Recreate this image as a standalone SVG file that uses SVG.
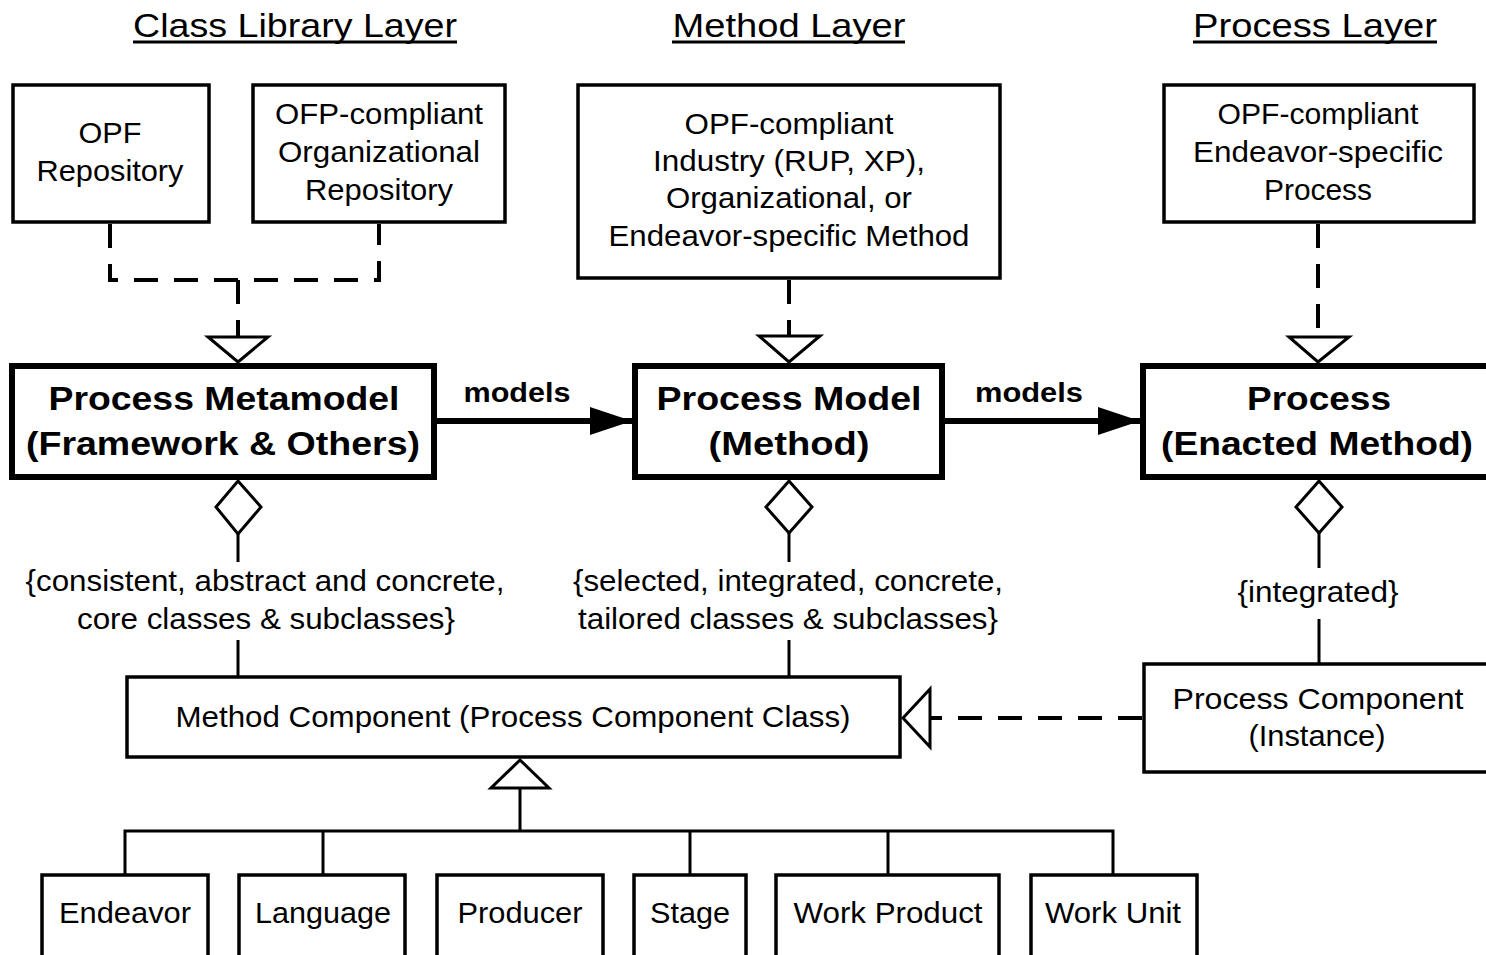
<svg xmlns="http://www.w3.org/2000/svg" width="1486" height="955" viewBox="0 0 1486 955">
<defs>
<style>
.t{font-family:"Liberation Sans",Arial,sans-serif;font-size:29px;fill:#000;text-anchor:middle}
.h{font-family:"Liberation Sans",Arial,sans-serif;font-size:34px;fill:#000;text-anchor:middle}
.b{font-family:"Liberation Sans",Arial,sans-serif;font-size:34px;font-weight:bold;fill:#000;text-anchor:middle}
.m{font-family:"Liberation Sans",Arial,sans-serif;font-size:27px;font-weight:bold;fill:#000;text-anchor:middle}
.box{fill:#fff;stroke:#000;stroke-width:3.5}
.thick{fill:#fff;stroke:#000;stroke-width:6}
.ln{fill:none;stroke:#000;stroke-width:3}
.dash{fill:none;stroke:#000;stroke-width:4;stroke-dasharray:24 16}
.hollow{fill:#fff;stroke:#000;stroke-width:3;stroke-linejoin:miter}
</style>
<marker id="arr" markerUnits="userSpaceOnUse" markerWidth="44" markerHeight="30" refX="42" refY="15" orient="auto">
<path d="M0,1 L42,15 L0,29 Z" fill="#000"/>
</marker>
</defs>
<rect width="1486" height="955" fill="#fff"/>

<g id="titles">
<text class="h" x="295" y="37" textLength="324" lengthAdjust="spacingAndGlyphs">Class Library Layer</text>
<line x1="133" y1="42" x2="457" y2="42" stroke="#000" stroke-width="3"/>
<text class="h" x="789" y="37" textLength="233" lengthAdjust="spacingAndGlyphs">Method Layer</text>
<line x1="672" y1="42" x2="905" y2="42" stroke="#000" stroke-width="3"/>
<text class="h" x="1315" y="37" textLength="244" lengthAdjust="spacingAndGlyphs">Process Layer</text>
<line x1="1193" y1="42" x2="1437" y2="42" stroke="#000" stroke-width="3"/>
</g>

<g id="connectors">
<path class="dash" d="M110,224 V280 H379 V224"/>
<path class="dash" d="M238,280 V337"/>
<polygon class="hollow" points="208,337 268,337 238,362"/>
<path class="dash" d="M789,280 V336"/>
<polygon class="hollow" points="759,336 820,336 789,362"/>
<path class="dash" d="M1318,224 V337"/>
<polygon class="hollow" points="1289,337 1349,337 1318,362"/>
<line x1="437" y1="421" x2="632" y2="421" stroke="#000" stroke-width="6" marker-end="url(#arr)"/>
<line x1="945" y1="421" x2="1140" y2="421" stroke="#000" stroke-width="6" marker-end="url(#arr)"/>
<polygon class="hollow" points="238,481 261,507 238,534 216,507"/>
<line class="ln" x1="238" y1="534" x2="238" y2="562"/>
<line class="ln" x1="238" y1="640" x2="238" y2="676"/>
<polygon class="hollow" points="789,481 812,507 789,533 766,507"/>
<line class="ln" x1="789" y1="533" x2="789" y2="562"/>
<line class="ln" x1="789" y1="640" x2="789" y2="676"/>
<polygon class="hollow" points="1319,481 1342,507 1319,533 1296,507"/>
<line class="ln" x1="1319" y1="533" x2="1319" y2="568"/>
<line class="ln" x1="1319" y1="619" x2="1319" y2="663"/>
<path class="dash" d="M1142,718 H930"/>
<polygon class="hollow" points="930,689 930,747 903,718"/>
<polygon class="hollow" points="520,760 549,788 491,788"/>
<line class="ln" x1="520" y1="788" x2="520" y2="831"/>
<path class="ln" d="M125,874 V831 H1113 V874"/>
<line class="ln" x1="323" y1="831" x2="323" y2="874"/>
<line class="ln" x1="690" y1="831" x2="690" y2="874"/>
<line class="ln" x1="888" y1="831" x2="888" y2="874"/>
</g>

<g id="opf-repository">
<rect class="box" x="13" y="85" width="196" height="137"/>
<text class="t" x="110" y="143" textLength="63" lengthAdjust="spacingAndGlyphs">OPF</text>
<text class="t" x="110" y="181" textLength="147" lengthAdjust="spacingAndGlyphs">Repository</text>
</g>

<g id="org-repository">
<rect class="box" x="253" y="85" width="252" height="137"/>
<text class="t" x="379" y="124" textLength="208" lengthAdjust="spacingAndGlyphs">OFP-compliant</text>
<text class="t" x="379" y="162" textLength="202" lengthAdjust="spacingAndGlyphs">Organizational</text>
<text class="t" x="379" y="200" textLength="148" lengthAdjust="spacingAndGlyphs">Repository</text>
</g>

<g id="method-source">
<rect class="box" x="578" y="85" width="422" height="193"/>
<text class="t" x="789" y="134" textLength="209" lengthAdjust="spacingAndGlyphs">OPF-compliant</text>
<text class="t" x="789" y="171" textLength="272" lengthAdjust="spacingAndGlyphs">Industry (RUP, XP),</text>
<text class="t" x="789" y="208" textLength="246" lengthAdjust="spacingAndGlyphs">Organizational, or</text>
<text class="t" x="789" y="246" textLength="361" lengthAdjust="spacingAndGlyphs">Endeavor-specific Method</text>
</g>

<g id="process-source">
<rect class="box" x="1164" y="85" width="310" height="137"/>
<text class="t" x="1318" y="124" textLength="201" lengthAdjust="spacingAndGlyphs">OPF-compliant</text>
<text class="t" x="1318" y="162" textLength="250" lengthAdjust="spacingAndGlyphs">Endeavor-specific</text>
<text class="t" x="1318" y="200" textLength="108" lengthAdjust="spacingAndGlyphs">Process</text>
</g>

<g id="metamodel">
<rect class="thick" x="12" y="366" width="422" height="111"/>
<text class="b" x="224" y="410" textLength="351" lengthAdjust="spacingAndGlyphs">Process Metamodel</text>
<text class="b" x="223" y="455" textLength="394" lengthAdjust="spacingAndGlyphs">(Framework &amp; Others)</text>
</g>

<g id="process-model">
<rect class="thick" x="635" y="366" width="307" height="111"/>
<text class="b" x="789" y="410" textLength="265" lengthAdjust="spacingAndGlyphs">Process Model</text>
<text class="b" x="789" y="455" textLength="161" lengthAdjust="spacingAndGlyphs">(Method)</text>
</g>

<g id="process">
<rect class="thick" x="1143" y="366" width="360" height="111"/>
<text class="b" x="1319" y="410" textLength="144" lengthAdjust="spacingAndGlyphs">Process</text>
<text class="b" x="1317" y="455" textLength="312" lengthAdjust="spacingAndGlyphs">(Enacted Method)</text>
</g>

<g id="labels">
<text class="m" x="517" y="402" textLength="107" lengthAdjust="spacingAndGlyphs">models</text>
<text class="m" x="1029" y="402" textLength="108" lengthAdjust="spacingAndGlyphs">models</text>
<text class="t" x="265" y="591" textLength="479" lengthAdjust="spacingAndGlyphs">{consistent, abstract and concrete,</text>
<text class="t" x="266" y="629" textLength="378" lengthAdjust="spacingAndGlyphs">core classes &amp; subclasses}</text>
<text class="t" x="788" y="591" textLength="430" lengthAdjust="spacingAndGlyphs">{selected, integrated, concrete,</text>
<text class="t" x="788" y="629" textLength="420" lengthAdjust="spacingAndGlyphs">tailored classes &amp; subclasses}</text>
<text class="t" x="1318" y="602" textLength="161" lengthAdjust="spacingAndGlyphs">{integrated}</text>
</g>

<g id="method-component">
<rect class="box" x="127" y="677" width="773" height="80"/>
<text class="t" x="513" y="727" textLength="675" lengthAdjust="spacingAndGlyphs">Method Component (Process Component Class)</text>
</g>

<g id="process-component">
<rect class="box" x="1144" y="664" width="360" height="108"/>
<text class="t" x="1318" y="709" textLength="291" lengthAdjust="spacingAndGlyphs">Process  Component</text>
<text class="t" x="1317" y="746" textLength="137" lengthAdjust="spacingAndGlyphs">(Instance)</text>
</g>

<g id="endeavor">
<rect class="box" x="42" y="875" width="166" height="100"/>
<text class="t" x="125" y="923" textLength="132" lengthAdjust="spacingAndGlyphs">Endeavor</text>
</g>
<g id="language">
<rect class="box" x="239" y="875" width="166" height="100"/>
<text class="t" x="323" y="923" textLength="136" lengthAdjust="spacingAndGlyphs">Language</text>
</g>
<g id="producer">
<rect class="box" x="437" y="875" width="166" height="100"/>
<text class="t" x="520" y="923" textLength="125" lengthAdjust="spacingAndGlyphs">Producer</text>
</g>
<g id="stage">
<rect class="box" x="634" y="875" width="112" height="100"/>
<text class="t" x="690" y="923" textLength="80" lengthAdjust="spacingAndGlyphs">Stage</text>
</g>
<g id="work-product">
<rect class="box" x="776" y="875" width="223" height="100"/>
<text class="t" x="888" y="923" textLength="189" lengthAdjust="spacingAndGlyphs">Work Product</text>
</g>
<g id="work-unit">
<rect class="box" x="1031" y="875" width="166" height="100"/>
<text class="t" x="1113" y="923" textLength="136" lengthAdjust="spacingAndGlyphs">Work Unit</text>
</g>
</svg>
